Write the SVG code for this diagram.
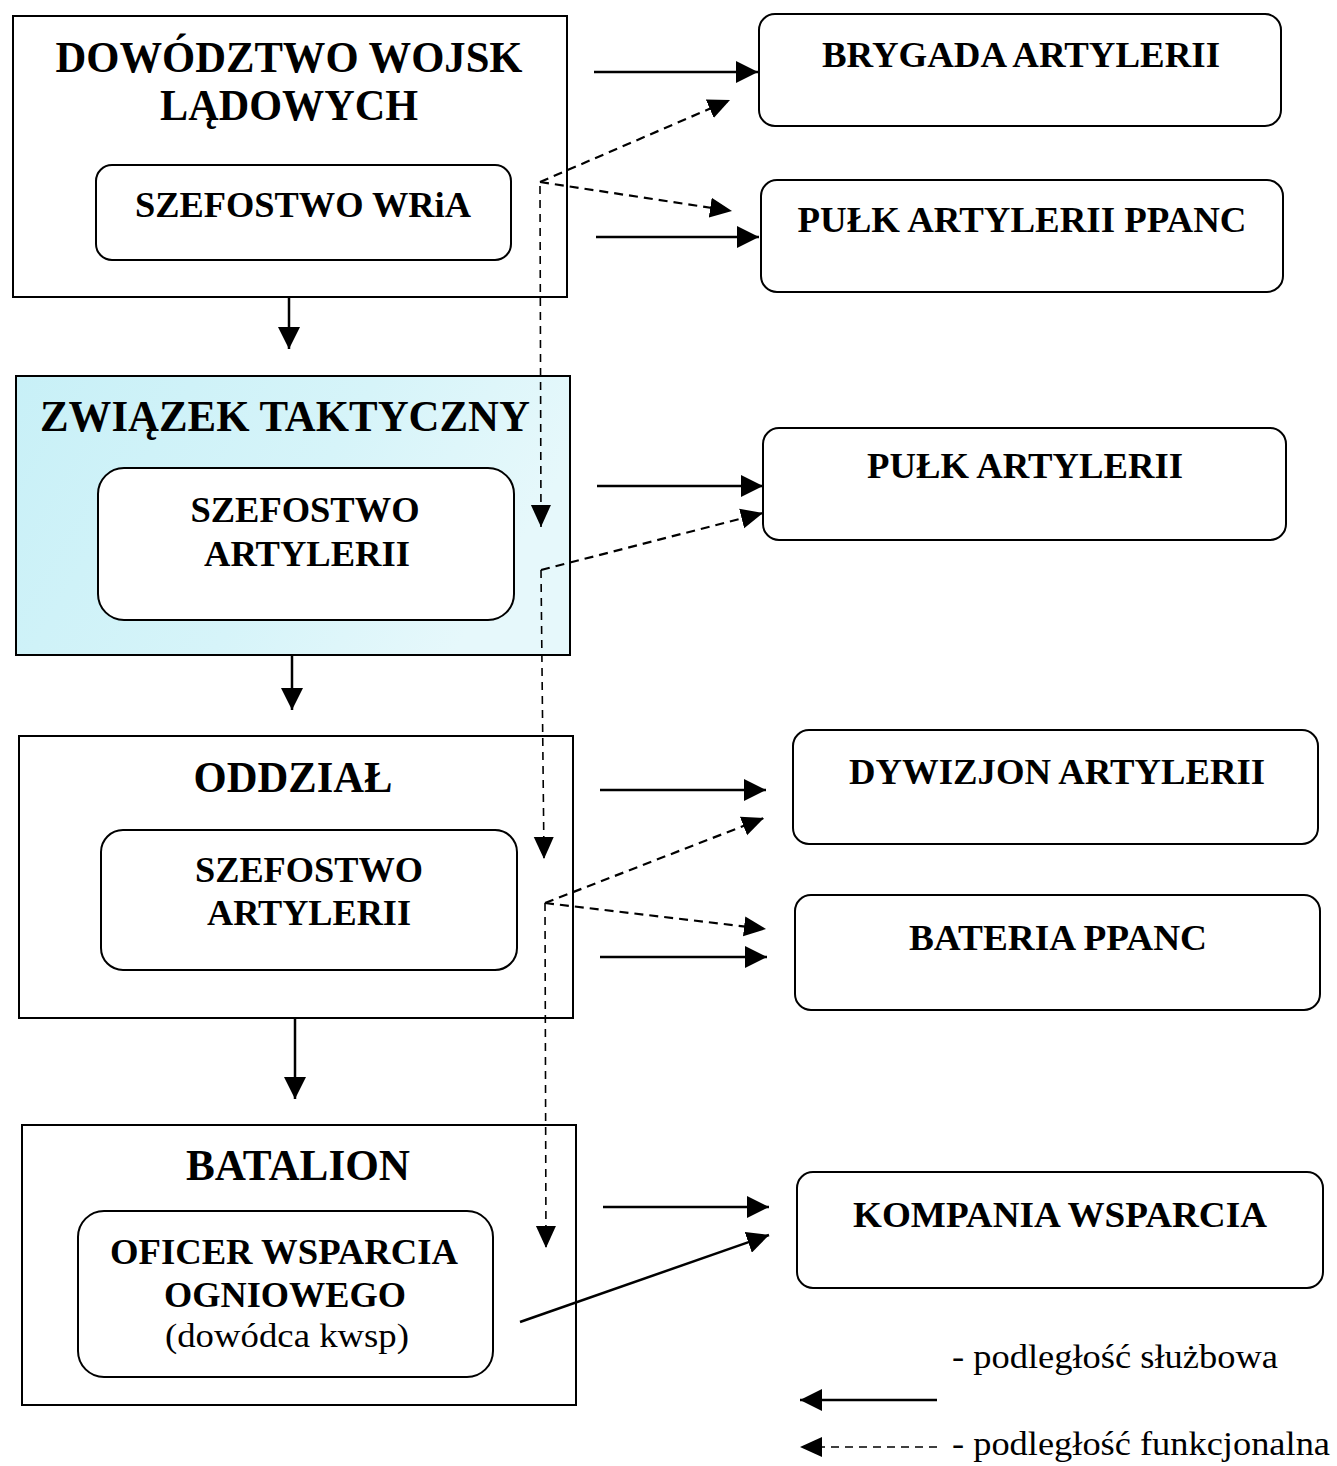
<svg xmlns="http://www.w3.org/2000/svg" width="1337" height="1466" viewBox="0 0 1337 1466">
<style>
.box{fill:#fff;stroke:#000;stroke-width:2}
.rbox{fill:#fff;stroke:#000;stroke-width:2}
.t{font-family:"Liberation Serif","Times New Roman",serif;font-weight:bold;fill:#000;text-anchor:middle}
.big{font-size:44px}
.mid{font-size:35px}
.norm{font-family:"Liberation Serif","Times New Roman",serif;font-weight:normal;fill:#000}
.solid{stroke:#000;stroke-width:2.5;fill:none;marker-end:url(#ah)}
.dash{stroke:#000;stroke-width:2.2;fill:none;stroke-dasharray:9 6;marker-end:url(#ah2)}
.vdash{stroke:#000;stroke-width:1.6;fill:none;stroke-dasharray:8 6;marker-end:url(#ah2)}
</style>
<defs>
<marker id="ah" markerUnits="userSpaceOnUse" markerWidth="24" markerHeight="22" refX="22" refY="11" orient="auto">
<path d="M0,0 L22,11 L0,22 z" fill="#000"/>
</marker>
<marker id="ah2" markerUnits="userSpaceOnUse" markerWidth="24" markerHeight="22" refX="22" refY="11" orient="auto">
<path d="M0,1 L22,11 L0,21 z" fill="#000"/>
</marker>
<linearGradient id="cyan" x1="0" y1="0" x2="1" y2="0.3">
<stop offset="0" stop-color="#c8f0f7"/>
<stop offset="0.6" stop-color="#d6f4f9"/>
<stop offset="1" stop-color="#e6f8fb"/>
</linearGradient>
</defs>
<rect width="1337" height="1466" fill="#fff"/>

<g id="dowodztwo">
<rect class="box" x="13" y="16" width="554" height="281"/>
<text class="t big" x="289" y="72" textLength="467" lengthAdjust="spacingAndGlyphs">DOWÓDZTWO WOJSK</text>
<text class="t big" x="289" y="120" textLength="258" lengthAdjust="spacingAndGlyphs">LĄDOWYCH</text>
</g>
<g id="szefostwo-wria">
<rect class="rbox" x="96" y="165" width="415" height="95" rx="16"/>
<text class="t mid" x="303" y="217" textLength="336" lengthAdjust="spacingAndGlyphs">SZEFOSTWO WRiA</text>
</g>

<g id="zwiazek">
<rect x="16" y="376" width="554" height="279" fill="url(#cyan)" stroke="#000" stroke-width="2"/>
<text class="t big" x="285" y="431" textLength="490" lengthAdjust="spacingAndGlyphs">ZWIĄZEK TAKTYCZNY</text>
</g>
<g id="szefostwo-art-zt">
<rect class="rbox" x="98" y="468" width="416" height="152" rx="26"/>
<text class="t mid" x="305" y="522" textLength="229" lengthAdjust="spacingAndGlyphs">SZEFOSTWO</text>
<text class="t mid" x="307" y="566" textLength="206" lengthAdjust="spacingAndGlyphs">ARTYLERII</text>
</g>

<g id="oddzial">
<rect class="box" x="19" y="736" width="554" height="282"/>
<text class="t big" x="293" y="792" textLength="199" lengthAdjust="spacingAndGlyphs">ODDZIAŁ</text>
</g>
<g id="szefostwo-art-o">
<rect class="rbox" x="101" y="830" width="416" height="140" rx="22"/>
<text class="t mid" x="309" y="882" textLength="228" lengthAdjust="spacingAndGlyphs">SZEFOSTWO</text>
<text class="t mid" x="309" y="925" textLength="204" lengthAdjust="spacingAndGlyphs">ARTYLERII</text>
</g>

<g id="batalion">
<rect class="box" x="22" y="1125" width="554" height="280"/>
<text class="t big" x="298" y="1180" textLength="224" lengthAdjust="spacingAndGlyphs">BATALION</text>
</g>
<g id="oficer">
<rect class="rbox" x="78" y="1211" width="415" height="166" rx="26"/>
<text class="t mid" x="284" y="1264" textLength="348" lengthAdjust="spacingAndGlyphs">OFICER WSPARCIA</text>
<text class="t mid" x="285" y="1307" textLength="242" lengthAdjust="spacingAndGlyphs">OGNIOWEGO</text>
<text class="norm" x="287" y="1347" font-size="34" text-anchor="middle" textLength="244" lengthAdjust="spacingAndGlyphs">(dowódca kwsp)</text>
</g>

<g id="brygada">
<rect class="rbox" x="759" y="14" width="522" height="112" rx="16"/>
<text class="t mid" x="1021" y="67" textLength="398" lengthAdjust="spacingAndGlyphs">BRYGADA ARTYLERII</text>
</g>
<g id="pulk-ppanc">
<rect class="rbox" x="761" y="180" width="522" height="112" rx="16"/>
<text class="t mid" x="1022" y="232" textLength="449" lengthAdjust="spacingAndGlyphs">PUŁK ARTYLERII PPANC</text>
</g>
<g id="pulk-art">
<rect class="rbox" x="763" y="428" width="523" height="112" rx="16"/>
<text class="t mid" x="1025" y="478" textLength="316" lengthAdjust="spacingAndGlyphs">PUŁK ARTYLERII</text>
</g>
<g id="dywizjon">
<rect class="rbox" x="793" y="730" width="525" height="114" rx="16"/>
<text class="t mid" x="1057" y="784" textLength="416" lengthAdjust="spacingAndGlyphs">DYWIZJON ARTYLERII</text>
</g>
<g id="bateria">
<rect class="rbox" x="795" y="895" width="525" height="115" rx="16"/>
<text class="t mid" x="1058" y="950" textLength="298" lengthAdjust="spacingAndGlyphs">BATERIA PPANC</text>
</g>
<g id="kompania">
<rect class="rbox" x="797" y="1172" width="526" height="116" rx="16"/>
<text class="t mid" x="1060" y="1227" textLength="414" lengthAdjust="spacingAndGlyphs">KOMPANIA WSPARCIA</text>
</g>

<g id="connectors">
<line class="solid" x1="594" y1="72" x2="758" y2="72"/>
<line class="solid" x1="596" y1="237" x2="759" y2="237"/>
<line class="dash" x1="540" y1="182" x2="730" y2="100"/>
<line class="dash" x1="540" y1="182" x2="732" y2="211"/>
<line class="vdash" x1="540" y1="186" x2="541" y2="527"/>
<line class="solid" x1="289" y1="297" x2="289" y2="349"/>

<line class="solid" x1="597" y1="486" x2="763" y2="486"/>
<line class="dash" x1="541" y1="570" x2="763" y2="513"/>
<line class="vdash" x1="541" y1="570" x2="544" y2="859"/>
<line class="solid" x1="292" y1="655" x2="292" y2="710"/>

<line class="solid" x1="600" y1="790" x2="766" y2="790"/>
<line class="solid" x1="600" y1="957" x2="767" y2="957"/>
<line class="dash" x1="545" y1="903" x2="764" y2="818"/>
<line class="dash" x1="545" y1="903" x2="766" y2="929"/>
<line class="vdash" x1="545" y1="903" x2="546" y2="1248"/>
<line class="solid" x1="295" y1="1018" x2="295" y2="1099"/>

<line class="solid" x1="603" y1="1207" x2="769" y2="1207"/>
<line class="solid" x1="520" y1="1322" x2="769" y2="1235"/>
</g>

<g id="legend">
<line class="solid" x1="937" y1="1400" x2="800" y2="1400"/>
<line class="vdash" x1="937" y1="1447" x2="800" y2="1447"/>
<text class="norm" x="952" y="1368" font-size="34" textLength="326" lengthAdjust="spacingAndGlyphs">- podległość służbowa</text>
<text class="norm" x="952" y="1455" font-size="34" textLength="378" lengthAdjust="spacingAndGlyphs">- podległość funkcjonalna</text>
</g>
</svg>
